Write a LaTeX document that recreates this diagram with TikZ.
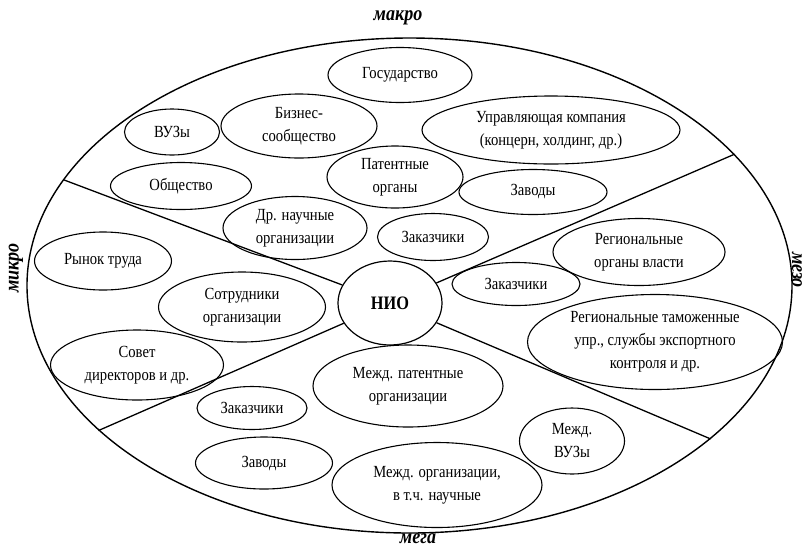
\documentclass[tikz,border=0pt]{standalone}
\usepackage{fontspec}
\setmainfont{Liberation Serif}[FakeStretch=0.86]
\usepackage{tikz}
\usetikzlibrary{shapes.geometric}

\begin{document}
\begin{tikzpicture}[
        x=1pt, y=-1pt,
        bubble/.style={draw, ellipse, inner sep=0pt, line width=1.1pt, align=center, font=\fontsize{17}{23}\selectfont},
        core/.style={draw, ellipse, inner sep=0pt, line width=1.2pt, font=\fontsize{19}{22}\selectfont\bfseries},
        level/.style={inner sep=0pt, font=\fontsize{21}{24}\selectfont\bfseries\itshape},
        divider/.style={draw, line width=1.3pt}
    ]
    \useasboundingbox (0,0) rectangle (810,550);

    \node[draw, ellipse, inner sep=0pt, line width=1.4pt, minimum width=765pt, minimum height=495pt] (outer) at (409.5,285.5) {};

    \node[level] (makro) at (398,18) {макро};
    \node[level] (mega) at (418,539) {мега};
    \node[level, rotate=90] (mikro) at (16,268) {микро};
    \node[level, rotate=-90] (mezo) at (797,270) {мезо};

    \node[core, minimum width=104pt, minimum height=84pt] (nio) at (390,303) {НИО};

    \node[bubble, minimum width=144pt, minimum height=55pt] (gos) at (400,75) {Государство};
    \node[bubble, minimum width=95pt, minimum height=46pt] (vuz) at (172,132) {ВУЗы};
    \node[bubble, minimum width=156pt, minimum height=64pt] (biz) at (299,126) {Бизнес-\\сообщество};
    \node[bubble, minimum width=258pt, minimum height=68pt] (uk) at (551,130) {Управляющая компания\\(концерн, холдинг, др.)};
    \node[bubble, minimum width=141pt, minimum height=47pt] (obsh) at (181,186) {Общество};
    \node[bubble, minimum width=136pt, minimum height=62pt] (pat) at (395,177) {Патентные\\органы};
    \node[bubble, minimum width=148pt, minimum height=45pt] (zav1) at (533,192) {Заводы};
    \node[bubble, minimum width=144pt, minimum height=63pt] (drn) at (295,228) {Др. научные\\организации};
    \node[bubble, minimum width=111pt, minimum height=47pt] (zak1) at (433,237) {Заказчики};

    \node[bubble, minimum width=172pt, minimum height=67pt] (rov) at (639,252) {Региональные\\органы власти};
    \node[bubble, minimum width=128pt, minimum height=43pt] (zak2) at (516,284) {Заказчики};
    \node[bubble, minimum width=255pt, minimum height=95pt] (rtu) at (655,342) {Региональные таможенные\\упр., службы экспортного\\контроля и др.};

    \node[bubble, minimum width=137pt, minimum height=58pt] (rt) at (103,261) {Рынок труда};
    \node[bubble, minimum width=167pt, minimum height=70pt] (sotr) at (242,307) {Сотрудники\\организации};
    \node[bubble, minimum width=173pt, minimum height=70pt] (sovet) at (137,365) {Совет\\директоров и др.};

    \node[bubble, minimum width=190pt, minimum height=82pt] (mpat) at (408,386) {Межд. патентные\\организации};
    \node[bubble, minimum width=110pt, minimum height=43pt] (zak3) at (252,408) {Заказчики};
    \node[bubble, minimum width=105pt, minimum height=66pt] (mvuz) at (572,441) {Межд.\\ВУЗы};
    \node[bubble, minimum width=137pt, minimum height=52pt] (zav2) at (264,463) {Заводы};
    \node[bubble, minimum width=210pt, minimum height=85pt] (morg) at (437,485) {Межд. организации,\\в т.ч. научные};

    \draw[divider] (nio) -- (outer.163.7);
    \draw[divider] (nio) -- (outer.205.3);
    \draw[divider] (nio) -- (outer.22.3);
    \draw[divider] (nio) -- (outer.333.1);
\end{tikzpicture}
\end{document}
